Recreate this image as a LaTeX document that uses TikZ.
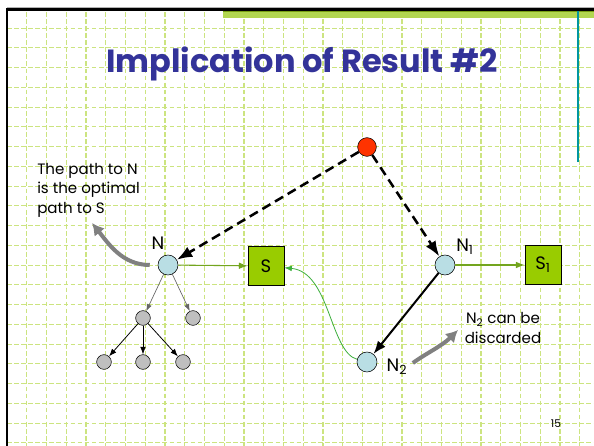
\documentclass[tikz,border=0pt]{standalone}
\usepackage{fontspec}
\setmainfont{Poppins}
\usetikzlibrary{arrows.meta}
\definecolor{gridgreen}{RGB}{204,228,128}
\definecolor{bandgreen}{RGB}{178,214,80}
\definecolor{banddark}{RGB}{120,160,20}
\definecolor{titleblue}{RGB}{51,51,153}
\definecolor{nodeblue}{RGB}{185,222,228}
\definecolor{goalgreen}{RGB}{153,204,0}
\definecolor{rootred}{RGB}{255,51,0}
\definecolor{linkgreen}{RGB}{115,165,30}
\definecolor{curvegreen}{RGB}{60,175,60}
\definecolor{tealline}{RGB}{0,150,160}
\definecolor{notegray}{RGB}{128,128,128}
\begin{document}
\begin{tikzpicture}[x=0.75pt,y=-0.75pt,>=Latex,
  gridline/.style={gridgreen,line width=0.8pt,dash pattern=on 3.5pt off 1.8pt},
  opennode/.style={circle,draw,fill=nodeblue,minimum size=15pt,inner sep=0pt},
  subnode/.style={circle,draw,fill=gray!50,minimum size=11pt,inner sep=0pt},
  goalbox/.style={draw,fill=goalgreen,minimum width=27pt,minimum height=29pt,inner sep=0pt,font=\fontsize{13.5}{15}\selectfont},
  lab/.style={font=\fontsize{13.5}{15}\selectfont,inner sep=1pt},
  notetext/.style={font=\fontsize{11.3}{14.6}\selectfont,inner sep=0pt},
  dashedge/.style={->,line width=1.9pt,dash pattern=on 7pt off 4pt},
  notearrow/.style={notegray,line width=3pt,-{Latex[length=9pt,width=10pt]}}]
\useasboundingbox (0,0) rectangle (594,446);
\fill[white] (0,0) rectangle (594,446);
% grid paper
\foreach \gx in {1,...,29}
  \draw[gridline] ({7+19.75*\gx},12) -- ({7+19.75*\gx},446);
\foreach \gy in {1,...,22}
  \draw[gridline] (7,{8.3+19.75*\gy}) -- (594,{8.3+19.75*\gy});
\fill[bandgreen] (223,11) rectangle (594,18);
\draw[banddark,line width=1pt] (223,11.5) -- (594,11.5);
\draw[gray!60,line width=0.6pt] (7,7.5) -- (594,7.5);
\draw[line width=2.2pt] (7,446) -- (7,9.5) -- (594,9.5);
\draw[tealline,line width=0.8pt] (578,11) -- (578,162);
\node[font=\bfseries\fontsize{24}{28}\selectfont,text=titleblue] (title) at (302,64) {Implication of Result \#2};
% search graph
\node[circle,draw,fill=rootred,minimum size=14pt,inner sep=0pt] (root) at (367,147) {};
\node[opennode] (n) at (168,265) {};
\node[lab] (nlab) at (158,243) {N};
\node[goalbox] (s) at (266,266) {S};
\node[opennode] (n1) at (445,265) {};
\node[lab] (n1lab) at (465,247) {N\textsubscript{1}};
\node[goalbox] (s1) at (543,265) {S\textsubscript{1}};
\node[opennode] (n2) at (367,362) {};
\node[lab] (n2lab) at (397,367) {N\textsubscript{2}};
\node[subnode] (c1) at (143,318) {};
\node[subnode] (c2) at (193,318) {};
\node[subnode] (l1) at (104,362) {};
\node[subnode] (l2) at (143,362) {};
\node[subnode] (l3) at (183,362) {};
\draw[dashedge] (root) -- (n);
\draw[dashedge] (root) -- (n1);
\draw[->,line width=1.5pt] (n1) -- (n2);
\draw[->,linkgreen,line width=0.8pt] (n) -- (s);
\draw[->,linkgreen,line width=0.8pt] (n1) -- (s1);
\draw[->,curvegreen,line width=0.6pt] (n2) .. controls (330,352) and (330,272) .. (s);
\draw[->,gray!80!black,line width=0.5pt] (n) -- (c1);
\draw[->,gray!80!black,line width=0.5pt] (n) -- (c2);
\foreach \lf in {l1,l2,l3}
  \draw[->,line width=0.6pt] (c1) -- (\lf);
% notes
\node[notetext,align=left,anchor=west] (pathnote) at (37,190) {The path to N\\is the optimal\\path to S};
\coordinate (tipa) at (92,223);
\draw[notearrow] ([xshift=-6pt]n.west) .. controls (122,265) and (108,243) .. (tipa);
\node[notetext,align=center] (discard) at (503,328) {N\textsubscript{2} can be\\discarded};
\coordinate (tipb) at (458,330);
\draw[notearrow] ([xshift=3pt,yshift=3pt]n2lab.east) .. controls (425,354) and (442,346) .. (tipb);
\node[font=\fontsize{8}{9}\selectfont] (pnum) at (556,424) {15};
\end{tikzpicture}
\end{document}
